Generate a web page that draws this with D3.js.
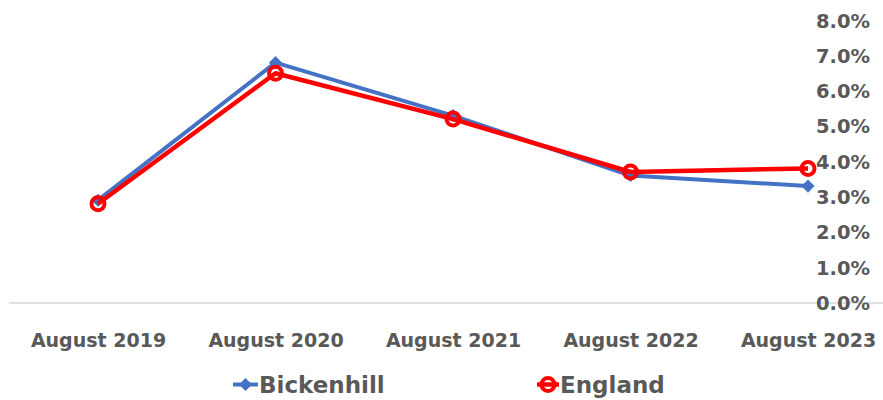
<!DOCTYPE html>
<html><head><meta charset="utf-8">
<script src="https://cdn.jsdelivr.net/npm/d3@7"></script>
<style>
html,body{margin:0;padding:0;background:#fff;}
svg text{font-family:"DejaVu Sans",sans-serif;font-weight:bold;fill:#595959;}
</style></head>
<body><svg id="c" width="883" height="400"></svg>
<script>
const categories = ["August 2019","August 2020","August 2021","August 2022","August 2023"];
const bickenhill = [2.9, 6.8, 5.3, 3.6, 3.3];
const england = [2.8, 6.5, 5.2, 3.7, 3.8];
const yTicks = [0,1,2,3,4,5,6,7,8];
const seriesNames = ["Bickenhill","England"];

const svg = d3.select("#c");
const x = d3.scalePoint().domain(categories).range([98, 808]);
const y = d3.scaleLinear().domain([0, 8]).range([302.5, 20.3]);

svg.append("line").attr("x1", 9).attr("x2", 883)
  .attr("y1", 303).attr("y2", 303)
  .attr("stroke", "#d9d9d9").attr("stroke-width", 1.3);

const yAxis = d3.axisRight(y).tickValues(yTicks).tickSize(0)
  .tickFormat(d => d.toFixed(1) + "%");
const ya = svg.append("g").attr("transform", "translate(870,0)").call(yAxis);
ya.select(".domain").remove();
ya.selectAll("text").attr("x", 0).attr("text-anchor", "end")
  .attr("dy", "0.35em").attr("fill", "#595959").style("font-size", "19.5px").style("font-family", "'DejaVu Sans', sans-serif");

const xAxis = d3.axisBottom(x).tickSize(0);
const xa = svg.append("g").attr("transform", "translate(0,0)").call(xAxis);
xa.select(".domain").remove();
xa.selectAll("text").attr("y", 346.5).attr("dy", "0").attr("fill", "#595959").style("font-size", "19px").style("font-family", "'DejaVu Sans', sans-serif");

const line = d3.line().x((d, i) => x(categories[i])).y(d => y(d));

svg.append("path").datum(bickenhill).attr("d", line)
  .attr("fill", "none").attr("stroke", "#4472C4").attr("stroke-width", 4).attr("stroke-linejoin", "round");
const diamond = d3.symbol().type(d3.symbolDiamond2).size(110);
svg.selectAll(".bm").data(bickenhill).enter().append("path")
  .attr("d", diamond)
  .attr("transform", (d, i) => `translate(${x(categories[i])},${y(d)})`)
  .attr("fill", "#4472C4");

svg.append("path").datum(england).attr("d", line)
  .attr("fill", "none").attr("stroke", "#FF0000").attr("stroke-width", 4.5).attr("stroke-linejoin", "round");
svg.selectAll(".em").data(england).enter().append("circle")
  .attr("cx", (d, i) => x(categories[i])).attr("cy", d => y(d)).attr("r", 6.5)
  .attr("fill", "none").attr("stroke", "#FF0000").attr("stroke-width", 4);

const lg = svg.append("g");
lg.append("line").attr("x1", 233).attr("x2", 258).attr("y1", 384.5).attr("y2", 384.5)
  .attr("stroke", "#4472C4").attr("stroke-width", 4);
lg.append("path").attr("d", diamond).attr("transform", "translate(245.5,384.5)").attr("fill", "#4472C4");
lg.append("text").attr("x", 259).attr("y", 385).attr("dy", "0.36em")
  .style("font-size", "23px").text(seriesNames[0]);
lg.append("line").attr("x1", 537).attr("x2", 559).attr("y1", 384.5).attr("y2", 384.5)
  .attr("stroke", "#FF0000").attr("stroke-width", 4.5);
lg.append("circle").attr("cx", 548).attr("cy", 384.5).attr("r", 6.5)
  .attr("fill", "none").attr("stroke", "#FF0000").attr("stroke-width", 4);
lg.append("text").attr("x", 560).attr("y", 385).attr("dy", "0.36em")
  .style("font-size", "23px").text(seriesNames[1]);
</script></body></html>
